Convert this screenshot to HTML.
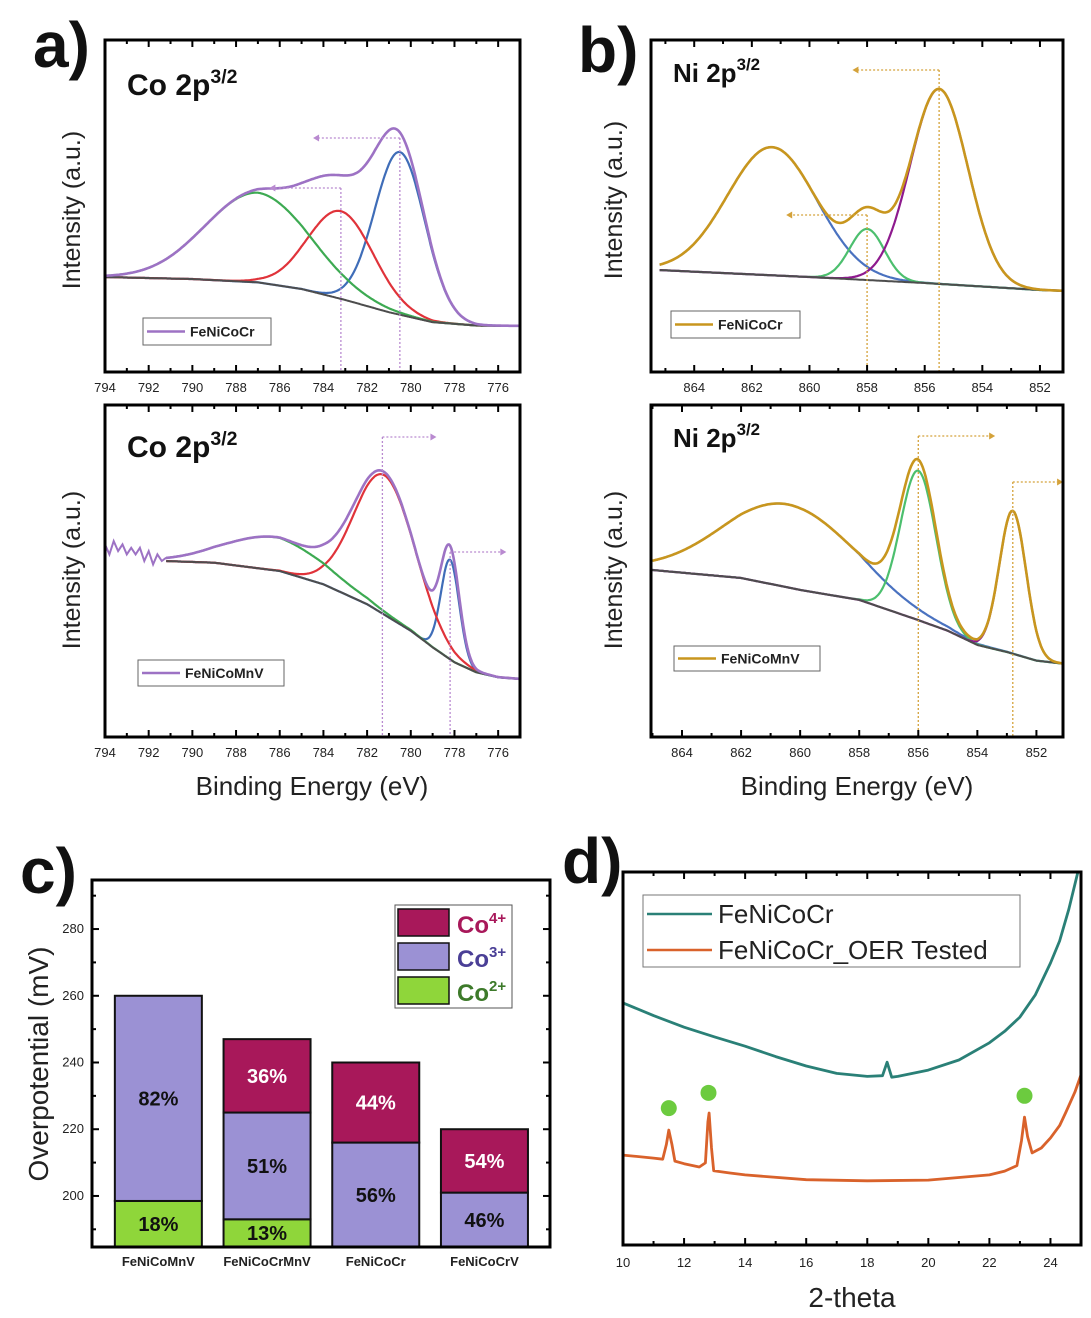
<!DOCTYPE html>
<html><head><meta charset="utf-8"><style>
html,body{margin:0;padding:0;background:#fff;}
svg{display:block;font-family:"Liberation Sans",sans-serif;}
</style></head><body>
<svg id="fig" width="1091" height="1318" viewBox="0 0 1091 1318"></svg>
<script>
// ===== Panel a (top) Co 2p FeNiCoCr =====
const aTopBgE=[794,790,787,785,783,781,779,777,775];
const aTopBgI=[28.6,28,27,25,21.7,18,15,14,13.9];
const aTopCenters=[780.5,783.2,787.0];
const aTopAmps=[49,26.4,27];
const aTopSigmas=[1.15,1.5,2.4];
// ===== Panel a (bottom) Co 2p FeNiCoMnV =====
const aBotBgE=[791.2,789,786,784,782,780,779,778,777,776,775];
const aBotBgI=[53,52.5,50,46,40,32,27,22.5,19.5,18,17.5];
const aBotCenters=[778.2,781.2,786.2];
const aBotAmps=[30,42,10];
const aBotSigmas=[0.42,1.4,2.3];
const aBotNoiseE=[794,793.8,793.6,793.4,793.2,793,792.8,792.6,792.4,792.2,792,791.8,791.6,791.4,791.2];
const aBotNoiseI=[58,55,59,56,58,55,57,55,57,53,56,52,55,53,54];
// ===== Panel b (top) Ni 2p FeNiCoCr =====
const bTopBgE=[865.2,860,856,852,851];
const bTopBgI=[30.7,28.6,26.8,24.7,24.4];
const bTopCenters=[861.3,858.0,855.5];
const bTopAmps=[38.6,15.4,58.7];
const bTopSigmas=[1.55,0.6,1.0];
// ===== Panel b (bottom) Ni 2p FeNiCoMnV =====
const bBotBgE=[865,862,860,858,856,855,854,853,852,851];
const bBotBgI=[50.3,47.9,44.3,41.3,35.2,32,27.7,25.6,23,22];
const bBotCenters=[860.4,856.0,852.8];
const bBotAmps=[25,45,43];
const bBotSigmas=[2.2,0.6,0.45];
// ===== Panel c bars =====
const cCategories=['FeNiCoMnV','FeNiCoCrMnV','FeNiCoCr','FeNiCoCrV'];
const cCo2Top=[198.5,193,184.7,184.7];
const cCo3Top=[260,225,216,201];
const cTotals=[260,247,240,220];
const cPct2=['18%','13%','',''];
const cPct3=['82%','51%','56%','46%'];
const cPct4=['','36%','44%','54%'];
const cTicks=[200,220,240,260,280];
// ===== Panel d XRD =====
const dTealX=[10,11,12,13,14,15,16,17,18,18.5,18.65,18.8,19,20,21,22,22.5,23,23.5,24,24.3,24.6,24.9];
const dTealY=[64.9,61.5,58.4,55.8,53.3,50.5,48,46,45.2,45.4,49,45,45.2,46.9,49.6,54.2,57.3,61.1,67,75.6,81.5,90,100];
const dOrX=[10,11,11.3,11.42,11.5,11.6,11.7,12,12.5,12.7,12.78,12.82,12.9,12.97,13.5,14,16,18,20,22,22.5,22.9,23.05,23.15,23.25,23.4,23.7,24,24.3,24.5,24.8,25];
const dOrY=[24.1,23.3,23,27,30.8,27,22.5,21.8,20.9,22,33,35.4,26,19.9,19.3,18.8,17.5,17.2,17.4,18.8,19.8,21.3,28,34.3,29,24.7,26,28.7,32,35.5,41,45.6];
const dDotX=[11.5,12.8,23.15];
const dDotY=[36.7,40.8,40];
const dTicks=[10,12,14,16,18,20,22,24];

const NS='http://www.w3.org/2000/svg';
const svg=document.getElementById('fig');
function mk(tag,attrs,parent){const e=document.createElementNS(NS,tag);for(const k in attrs)e.setAttribute(k,attrs[k]);(parent||svg).appendChild(e);return e;}
function txt(s,attrs,parent){const e=mk('text',attrs,parent);e.textContent=s;return e;}
function interp(xs,ys,x){
  const asc=xs[0]<xs[xs.length-1];
  for(let i=0;i<xs.length-1;i++){const a=xs[i],b=xs[i+1];
    if((asc&&x>=a&&x<=b)||(!asc&&x<=a&&x>=b)){return ys[i]+(ys[i+1]-ys[i])*(x-a)/(b-a);}}
  return (asc?(x<xs[0]):(x>xs[0]))?ys[0]:ys[ys.length-1];
}
function gauss(x,c,a,s){return a*Math.exp(-(x-c)*(x-c)/(2*s*s));}

function xpsPanel(o){
  const g=mk('g',{},svg);
  
  
  const xs=e=>o.x0+(o.eL-e)/(o.eL-o.eR)*(o.x1-o.x0);
  const ys=u=>o.y1-u/100*(o.y1-o.y0);
  const step=0.05;
  function path(fn,start,color,w,name){
    let d='';for(let e=start;e>=o.eR-1e-9;e-=step){d+=(d?'L':'M')+xs(e).toFixed(1)+','+ys(fn(e)).toFixed(1);}
    const p=mk('path',{d:d,fill:'none',stroke:color,'stroke-width':w,'stroke-linejoin':'round'},g);
    
    
  }
  const bg=e=>interp(o.bgE,o.bgI,e);
  const bStart=o.bgE[0];
  o.centers.forEach((c,i)=>{path(e=>bg(e)+gauss(e,c,o.amps[i],o.sigmas[i]),bStart,o.compColors[i],2.2,'component-peak-'+(i+1));});
  path(bg,bStart,'#4d4d4d',2,'background-line');
  const env=e=>bg(e)+o.centers.reduce((s,c,i)=>s+gauss(e,c,o.amps[i],o.sigmas[i]),0);
  path(env,bStart,o.envColor,2.6,'envelope-curve');
  if(o.noiseE){let d='';o.noiseE.forEach((e,i)=>{d+=(i?'L':'M')+xs(e).toFixed(1)+','+ys(o.noiseI[i]).toFixed(1);});
    const p=mk('path',{d:d,fill:'none',stroke:o.envColor,'stroke-width':2},g);
    }
  o.guides.forEach(gd=>{
    const gx=xs(gd[0]),gy=gd[1],ax=xs(gd[2]);
    mk('line',{x1:gx,y1:gy,x2:gx,y2:o.y1,stroke:o.guideColor,'stroke-width':1.3,'stroke-dasharray':'2,2'},g);
    mk('line',{x1:gx,y1:gy,x2:ax,y2:gy,stroke:o.guideColor,'stroke-width':1.3,'stroke-dasharray':'2,2'},g);
    const dir=ax<gx?-1:1;
    mk('path',{d:`M${ax+dir*6},${gy}L${ax},${gy-3.5}L${ax},${gy+3.5}Z`,fill:o.guideColor},g);
  });
  const fr=mk('rect',{x:o.x0,y:o.y0,width:o.x1-o.x0,height:o.y1-o.y0,fill:'none',stroke:'#000','stroke-width':3},g);
  
  for(let e=Math.ceil(o.eR);e<=o.eL;e++){const x=xs(e);const L=(e%2===0)?7:4;
    mk('line',{x1:x,y1:o.y1,x2:x,y2:o.y1-L,stroke:'#000','stroke-width':2},g);
    mk('line',{x1:x,y1:o.y0,x2:x,y2:o.y0+L,stroke:'#000','stroke-width':2},g);}
  o.ticks.forEach(t=>{const l=txt(String(t),{x:xs(t),y:o.y1+20,'font-size':13,'text-anchor':'middle',fill:'#222'},g);
    });
  const ti=mk('text',{x:o.x0+22,y:o.y0+o.titleDy,'font-size':o.titleSize,'font-weight':'bold',fill:'#111'},g);
  
  ti.textContent=o.title+' 2p';
  const sup=mk('tspan',{dy:-12,'font-size':o.titleSize*0.65},ti);sup.textContent='3/2';
  const lg=mk('g',{},g);
  mk('rect',{x:o.leg[0],y:o.leg[1],width:o.leg[2],height:o.leg[3],fill:'#fff',stroke:'#666','stroke-width':1},lg);
  const my=o.leg[1]+o.leg[3]/2;
  mk('line',{x1:o.leg[0]+4,y1:my,x2:o.leg[0]+42,y2:my,stroke:o.envColor,'stroke-width':2.5},lg);
  txt(o.legText,{x:o.leg[0]+47,y:my+5,'font-size':14,'font-weight':'bold',fill:'#222'},lg);
  const yt=txt('Intensity (a.u.)',{x:0,y:0,'font-size':25,'text-anchor':'middle',fill:'#222',transform:`translate(${o.ytx},${o.yty}) rotate(-90)`},g);
  
}
const coTicks=[794,792,790,788,786,784,782,780,778,776];
const niTicks=[864,862,860,858,856,854,852];
xpsPanel({name:'panel-a-top',x0:105,x1:520,y0:40,y1:372,eL:794,eR:775,bgE:aTopBgE,bgI:aTopBgI,centers:aTopCenters,amps:aTopAmps,sigmas:aTopSigmas,
  compColors:['#3f6db8','#e0333a','#3daa52'],envColor:'#9d72c4',guideColor:'#b98ad0',guides:[[783.2,188,786.2],[780.5,138,784.2]],
  ticks:coTicks,title:'Co',titleSize:30,titleDy:55,leg:[143,318,128,27],legText:'FeNiCoCr',ytx:80,yty:210});
xpsPanel({name:'panel-a-bottom',x0:105,x1:520,y0:405,y1:737,eL:794,eR:775,bgE:aBotBgE,bgI:aBotBgI,centers:aBotCenters,amps:aBotAmps,sigmas:aBotSigmas,
  compColors:['#3f6db8','#e0333a','#3daa52'],envColor:'#9d72c4',guideColor:'#b98ad0',guides:[[781.3,437,779.1],[778.2,552,775.9]],noiseE:aBotNoiseE,noiseI:aBotNoiseI,
  ticks:coTicks,title:'Co',titleSize:30,titleDy:52,leg:[138,660,146,26],legText:'FeNiCoMnV',ytx:80,yty:570});
xpsPanel({name:'panel-b-top',x0:651,x1:1063,y0:40,y1:372,eL:865.5,eR:851.2,bgE:bTopBgE,bgI:bTopBgI,centers:bTopCenters,amps:bTopAmps,sigmas:bTopSigmas,
  compColors:['#4a72c0','#4cbf6e','#8e1a8e'],envColor:'#c8961e',guideColor:'#d4a23a',guides:[[858,215,860.6],[855.5,70,858.3]],
  ticks:niTicks,title:'Ni',titleSize:26,titleDy:42,leg:[671,311,129,27],legText:'FeNiCoCr',ytx:622,yty:200});
xpsPanel({name:'panel-b-bottom',x0:651,x1:1063,y0:405,y1:737,eL:865.05,eR:851.1,bgE:bBotBgE,bgI:bBotBgI,centers:bBotCenters,amps:bBotAmps,sigmas:bBotSigmas,
  compColors:['#4a72c0','#4cbf6e','#8e1a8e'],envColor:'#c8961e',guideColor:'#d4a23a',guides:[[856,436,853.6],[852.8,482,851.3]],
  ticks:niTicks,title:'Ni',titleSize:26,titleDy:42,leg:[674,646,146,25],legText:'FeNiCoMnV',ytx:622,yty:570});
[[312,'x-axis-title-a'],[857,'x-axis-title-b']].forEach(a=>{const t=txt('Binding Energy (eV)',{x:a[0],y:795,'font-size':26,'text-anchor':'middle',fill:'#222'});
  });
[['a)',33,67],['b)',578,72],['c)',20,893],['d)',562,883]].forEach(a=>{const t=txt(a[0],{x:a[1],y:a[2],'font-size':64,'font-weight':'bold',fill:'#111'});
  });

// ===== Panel c =====
(function(){
  const g=mk('g',{});
  const X0=92,X1=550,Y0=880,Y1=1247,vMin=184.7,vMax=294.7;
  const yv=v=>Y1-(v-vMin)/(vMax-vMin)*(Y1-Y0);
  const step=108.7,bx0=104,bw=87;
  const cx=i=>bx0+i*step+step/2;
  const cols={co2:'#8fd63a',co3:'#9b91d4',co4:'#a8185a'};
  cCategories.forEach((c,i)=>{
    const segs=[[vMin,cCo2Top[i],cols.co2,'co2'],[cCo2Top[i],cCo3Top[i],cols.co3,'co3'],[cCo3Top[i],cTotals[i],cols.co4,'co4']];
    segs.forEach(s=>{if(s[1]-s[0]<=0.01)return;
      const r=mk('rect',{x:cx(i)-bw/2,y:yv(s[1]),width:bw,height:yv(s[0])-yv(s[1]),fill:s[2],stroke:'#111','stroke-width':2},g);
      });
    const labs=[[cPct2[i],vMin,cCo2Top[i],'#111'],[cPct3[i],cCo2Top[i],cCo3Top[i],'#111'],[cPct4[i],cCo3Top[i],cTotals[i],'#fff']];
    labs.forEach(l=>{if(!l[0])return;const t=txt(l[0],{x:cx(i),y:yv((l[1]+l[2])/2)+7,'font-size':20,'font-weight':'bold','text-anchor':'middle',fill:l[3]},g);
      });
    const t=txt(c,{x:cx(i),y:1266,'font-size':13,'font-weight':'bold','text-anchor':'middle',fill:'#222'},g);
    
  });
  mk('rect',{x:X0,y:Y0,width:X1-X0,height:Y1-Y0,fill:'none',stroke:'#000','stroke-width':3},g);
  for(let v=190;v<=290;v+=10){const y=yv(v),L=(v%20===0)?7:4;
    mk('line',{x1:X0,y1:y,x2:X0+L,y2:y,stroke:'#000','stroke-width':2},g);
    mk('line',{x1:X1,y1:y,x2:X1-L,y2:y,stroke:'#000','stroke-width':2},g);}
  cTicks.forEach(v=>{const t=txt(String(v),{x:84,y:yv(v)+4,'font-size':13,'text-anchor':'end',fill:'#222'},g);
    });
  const yt=txt('Overpotential (mV)',{x:0,y:0,'font-size':28,'text-anchor':'middle',fill:'#222',transform:'translate(48,1064) rotate(-90)'},g);
  
  const lg=mk('g',{},g);
  mk('rect',{x:395,y:905,width:117,height:103,fill:'#fff',stroke:'#555','stroke-width':1},lg);
  [['4+',cols.co4,'#a8185a',909],['3+',cols.co3,'#4a3f96',943],['2+',cols.co2,'#3d7a2a',977]].forEach(r=>{
    mk('rect',{x:398,y:r[3],width:51,height:27,fill:r[1],stroke:'#111','stroke-width':1.5},lg);
    const t=txt('Co',{x:457,y:r[3]+24,'font-size':24,'font-weight':'bold',fill:r[2]},lg);
    const s=mk('tspan',{dy:-10,'font-size':15},t);s.textContent=r[0];
  });
})();

// ===== Panel d =====
(function(){
  const g=mk('g',{});
  const X0=623,X1=1081,Y0=872,Y1=1245;
  const xs=v=>X0+(v-10)/15*(X1-X0);
  const ys=u=>Y1-u/100*(Y1-Y0);
  function line(xa,ya,col,name){let d='';xa.forEach((x,i)=>{d+=(i?'L':'M')+xs(x).toFixed(1)+','+ys(ya[i]).toFixed(1);});
    const p=mk('path',{d:d,fill:'none',stroke:col,'stroke-width':2.8,'stroke-linejoin':'round'},g);
    }
  line(dTealX,dTealY,'#2a8077','series-fenicocr');
  line(dOrX,dOrY,'#d9622b','series-fenicocr-oer-tested');
  dDotX.forEach((x,i)=>{const c=mk('circle',{cx:xs(x),cy:ys(dDotY[i]),r:8,fill:'#6ccb3f'},g);
    });
  mk('rect',{x:X0,y:Y0,width:X1-X0,height:Y1-Y0,fill:'none',stroke:'#000','stroke-width':3},g);
  for(let v=11;v<=25;v++){const x=xs(v),L=(v%2===0)?7:4;
    mk('line',{x1:x,y1:Y1,x2:x,y2:Y1-L,stroke:'#000','stroke-width':2},g);
    mk('line',{x1:x,y1:Y0,x2:x,y2:Y0+L,stroke:'#000','stroke-width':2},g);}
  dTicks.forEach(v=>{const t=txt(String(v),{x:xs(v),y:1267,'font-size':13,'text-anchor':'middle',fill:'#222'},g);
    });
  const xt=txt('2-theta',{x:852,y:1307,'font-size':28,'text-anchor':'middle',fill:'#222'},g);
  
  const lg=mk('g',{},g);
  mk('rect',{x:643,y:895,width:377,height:72,fill:'#fff',stroke:'#777','stroke-width':1},lg);
  mk('line',{x1:647,y1:914,x2:712,y2:914,stroke:'#2a8077','stroke-width':2.5},lg);
  mk('line',{x1:647,y1:950,x2:712,y2:950,stroke:'#d9622b','stroke-width':2.5},lg);
  txt('FeNiCoCr',{x:718,y:923,'font-size':26,fill:'#222'},lg);
  txt('FeNiCoCr_OER Tested',{x:718,y:959,'font-size':26,fill:'#222'},lg);
})();
</script>
</body></html>
